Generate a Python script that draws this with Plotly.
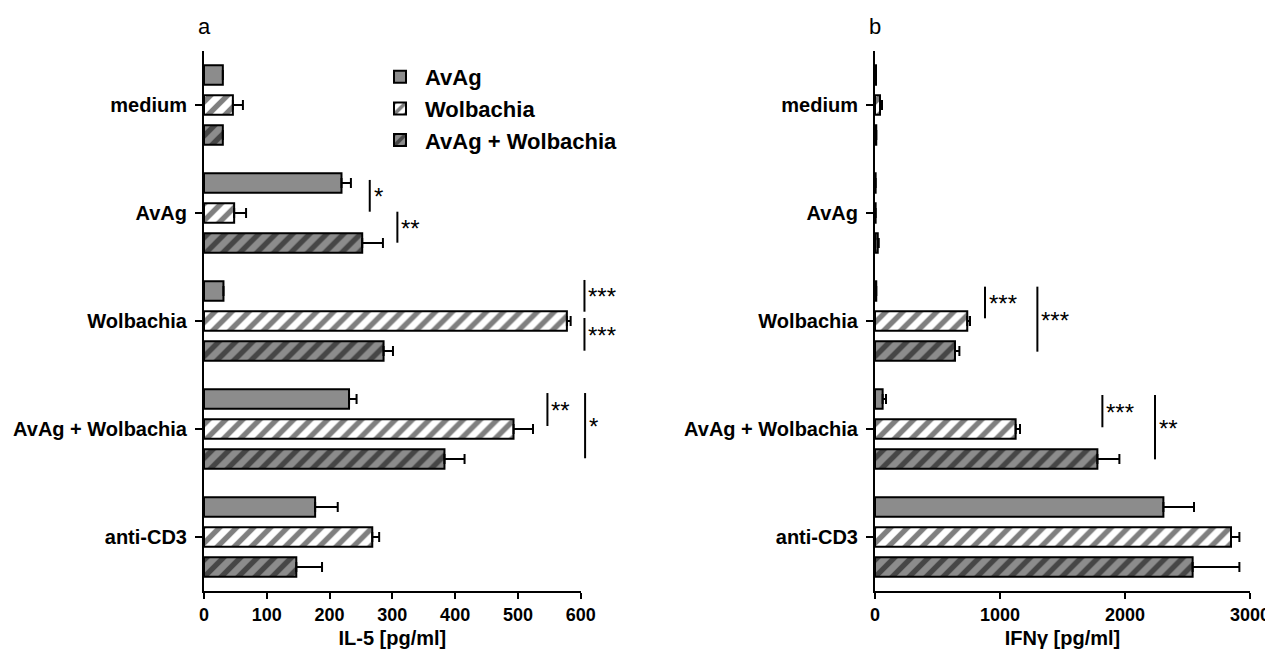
import plotly.graph_objects as go

categories = ["medium", "AvAg", "Wolbachia", "AvAg + Wolbachia", "anti-CD3"]
series_names = ["AvAg", "Wolbachia", "AvAg + Wolbachia"]

# Panel a: IL-5 [pg/ml]  (mean, SEM)
il5_avag = [30, 219, 31, 231, 177]
il5_avag_err = [0, 15, 0, 12, 36]
il5_wol = [46, 48, 578, 493, 268]
il5_wol_err = [16, 19, 6, 31, 11]
il5_both = [30, 252, 286, 383, 147]
il5_both_err = [0, 33, 15, 32, 41]

# Panel b: IFN-gamma [pg/ml]
ifn_avag = [8, 5, 10, 61, 2307]
ifn_avag_err = [0, 0, 0, 27, 245]
ifn_wol = [40, 5, 738, 1125, 2848]
ifn_wol_err = [16, 0, 22, 35, 67]
ifn_both = [10, 22, 640, 1779, 2541]
ifn_both_err = [0, 8, 35, 176, 374]

il5_ticks = [0, 100, 200, 300, 400, 500, 600]
ifn_ticks = [0, 1000, 2000, 3000]

# significance brackets: (x value, category-coordinate start, end, label)
sig_a = [(264, 0.694, 0.988, "*"), (308, 0.988, 1.275, "**"),
         (606, 1.620, 1.914, "***"), (606, 1.972, 2.275, "***"),
         (547, 2.667, 2.972, "**"), (607, 2.667, 3.271, "*")]
sig_b = [(880, 1.682, 1.975, "***"), (1299, 1.682, 2.284, "***"),
         (1819, 2.685, 2.984, "***"), (2240, 2.685, 3.281, "**")]

GRAY = "#8c8c8c"
FONT = "Liberation Sans, Arial, sans-serif"
DOM_A = [0.15397, 0.44988]
DOM_B = [0.68107, 0.97565]
XMAX_A, XMAX_B = 600, 3000
NCAT = len(categories)

styles = [
    dict(color=GRAY, pattern=dict(shape="")),
    dict(color="white", pattern=dict(shape="/", fgcolor="black", bgcolor="white", size=12, solidity=0.45)),
    dict(color=GRAY, pattern=dict(shape="/", fgcolor="black", bgcolor=GRAY, size=12, solidity=0.45)),
]

fig = go.Figure()
panels = [
    ("x", "y", [il5_avag, il5_wol, il5_both], [il5_avag_err, il5_wol_err, il5_both_err], True),
    ("x2", "y2", [ifn_avag, ifn_wol, ifn_both], [ifn_avag_err, ifn_wol_err, ifn_both_err], False),
]
for xa, ya, vals, errs, show in panels:
    for name, v, e, st in zip(series_names, vals, errs, styles):
        fig.add_trace(go.Bar(
            x=v, y=categories, orientation="h", name=name, xaxis=xa, yaxis=ya,
            showlegend=show,
            marker=dict(color=st["color"], pattern=st["pattern"], line=dict(color="black", width=2)),
            error_x=dict(type="data", array=e, arrayminus=[0] * len(e), symmetric=False,
                         color="black", thickness=2, width=5),
        ))


def to_paper_x(v, dom, xmax):
    return dom[0] + v / xmax * (dom[1] - dom[0])


def to_paper_y(c):
    return 1 - (c + 0.5) / NCAT


annotations = []
for sig, dom, xmax in [(sig_a, DOM_A, XMAX_A), (sig_b, DOM_B, XMAX_B)]:
    for xv, y0, y1, lab in sig:
        px = to_paper_x(xv, dom, xmax)
        fig.add_shape(type="line", xref="paper", yref="paper", x0=px, x1=px,
                      y0=to_paper_y(y0), y1=to_paper_y(y1),
                      line=dict(color="black", width=2))
        annotations.append(dict(xref="paper", yref="paper", x=px, y=to_paper_y((y0 + y1) / 2), text=lab,
                                showarrow=False, xanchor="left", yanchor="middle",
                                xshift=2, yshift=-1, font=dict(family=FONT, size=24, color="black")))

annotations += [
    dict(xref="paper", yref="paper", x=DOM_A[0], y=1.045, text="a", showarrow=False,
         xanchor="center", yanchor="middle", font=dict(family=FONT, size=22, color="black")),
    dict(xref="paper", yref="paper", x=DOM_B[0], y=1.045, text="b", showarrow=False,
         xanchor="center", yanchor="middle", font=dict(family=FONT, size=22, color="black")),
]

axis_common = dict(showline=True, linecolor="black", linewidth=2, ticks="outside",
                   tickcolor="black", tickwidth=2, showgrid=False, zeroline=False, automargin=False)
xfont = dict(family=FONT, size=18, color="black", weight="bold")
yfont = dict(family=FONT, size=20, color="black", weight="bold")
tfont = dict(family=FONT, size=20, color="black", weight="bold")

fig.update_layout(
    width=1273, height=654,
    margin=dict(l=0, r=0, t=43, b=71, autoexpand=False),
    plot_bgcolor="white", paper_bgcolor="white",
    barmode="group", bargap=0.167, bargroupgap=0.35,
    xaxis=dict(domain=DOM_A, range=[0, XMAX_A], tickvals=il5_ticks, ticklen=6,
               tickfont=xfont, title=dict(text="IL-5 [pg/ml]", font=tfont, standoff=7),
               anchor="y", **axis_common),
    yaxis=dict(domain=[0, 1], range=[NCAT - 0.5, -0.5], categoryorder="array", categoryarray=categories,
               ticklen=7, tickfont=yfont, anchor="x", ticklabelstandoff=4, **axis_common),
    xaxis2=dict(domain=DOM_B, range=[0, XMAX_B], tickvals=ifn_ticks, ticklen=6,
                tickfont=xfont, title=dict(text="IFNγ [pg/ml]", font=tfont, standoff=7),
                anchor="y2", **axis_common),
    yaxis2=dict(domain=[0, 1], range=[NCAT - 0.5, -0.5], categoryorder="array", categoryarray=categories,
                ticklen=7, tickfont=yfont, anchor="x2", ticklabelstandoff=4, **axis_common),
    legend=dict(x=0.2883, y=0.9907, xanchor="left", yanchor="top", traceorder="normal",
                font=dict(family=FONT, size=22, color="black", weight="bold"),
                bgcolor="rgba(0,0,0,0)", itemwidth=40, tracegroupgap=0),
    annotations=annotations,
)

fig.write_html("out.html")
